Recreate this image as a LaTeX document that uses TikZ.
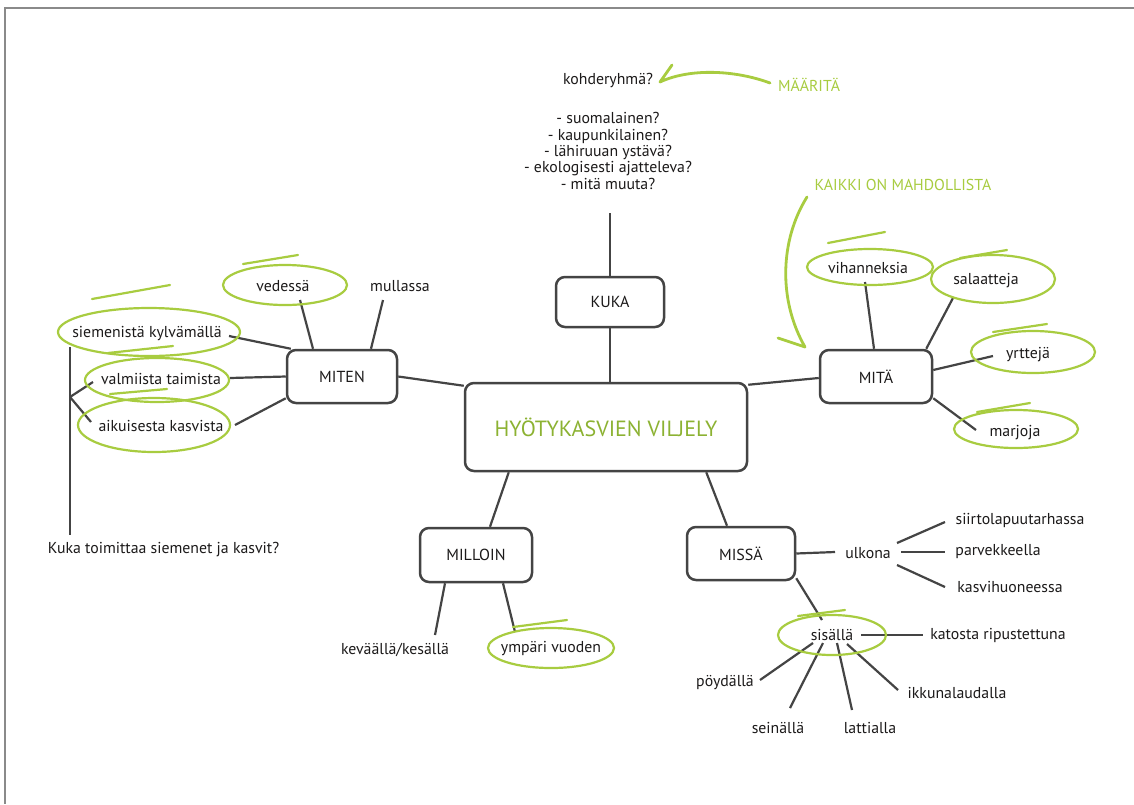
\documentclass[tikz,border=0pt]{standalone}
\usepackage{fontspec}
\setmainfont{PT Sans}
\definecolor{ink}{RGB}{28,26,26}
\definecolor{wiregrey}{RGB}{68,68,68}
\definecolor{leafgreen}{RGB}{168,204,64}
\definecolor{titlegreen}{RGB}{140,178,50}
\definecolor{framegrey}{RGB}{138,138,138}

% ring drawn by hand round a label: node, ring offset (dx,dy), radii, pen tail start and end
\newcommand\handring[9]{%
  \draw[ringpen] ([shift={(#2,#3)}]#1.center) ellipse [x radius=#4, y radius=#5];
  \draw[ringpen] ([shift={(#2+#6,#3+#7)}]#1.center) -- ([shift={(#2+#8,#3+#9)}]#1.center);
}

\begin{document}
\begin{tikzpicture}[x=1pt,y=-1pt,
  txt/.style={text=ink, font=\fontsize{15.8}{18}\selectfont, inner sep=1pt},
  topic/.style={draw=wiregrey, line width=2.5pt, rounded corners=9pt, fill=white,
    text=ink, font=\fontsize{16}{19}\selectfont},
  wire/.style={draw=wiregrey, line width=2.2pt},
  ringpen/.style={draw=leafgreen, line width=2.2pt, line cap=round},
  pen/.style={draw=leafgreen, line width=2.8pt, line cap=round, line join=round},
  note/.style={text=leafgreen, font=\fontsize{15.8}{18}\selectfont}
]
\fill[white] (0,0) rectangle (1134,804);
\useasboundingbox (0,0) rectangle (1134,804);
\draw[framegrey, line width=2pt] (1134,8) -- (5,8) -- (5,804);

% topic boxes
\node[topic, minimum width=282, minimum height=88, text=titlegreen,
      font=\fontsize{22}{26}\selectfont] (core) at (606,427) {HYÖTYKASVIEN VILJELY};
\node[topic, minimum width=108, minimum height=50] (kuka) at (610,302) {KUKA};
\node[topic, minimum width=110, minimum height=53] (miten) at (342,376.5) {MITEN};
\node[topic, minimum width=112, minimum height=53] (mita) at (876,376.5) {MITÄ};
\node[topic, minimum width=112, minimum height=54] (milloin) at (476,555) {MILLOIN};
\node[topic, minimum width=108, minimum height=53] (missa) at (741,553.5) {MISSÄ};

% KUKA
\node[txt] (kohde) at (608,80) {kohderyhmä?};
\node[txt, align=center, font=\fontsize{15.8}{16.3}\selectfont] (qs) at (608,151)
  {- suomalainen?\\- kaupunkilainen?\\- lähiruuan ystävä?\\- ekologisesti ajatteleva?\\- mitä muuta?};
\node[note] (maarita) at (809,85) {MÄÄRITÄ};
\coordinate (qfoot) at (609,213);

% MITEN
\node[txt] (vedessa) at (283,286) {vedessä};
\node[txt] (mullassa) at (400,286) {mullassa};
\node[txt] (siemenista) at (147,334) {siemenistä kylvämällä};
\node[txt] (valmiista) at (161,379) {valmiista taimista};
\node[txt] (aikuisesta) at (161,426) {aikuisesta kasvista};
\node[txt] (kt) at (163.5,550) {Kuka toimittaa siemenet ja kasvit?};
\coordinate (fork) at (70,397);

% MITÄ
\node[note] (kaikki) at (903,185) {KAIKKI ON MAHDOLLISTA};
\node[txt] (vihanneksia) at (868,268) {vihanneksia};
\node[txt] (salaatteja) at (986,281) {salaatteja};
\node[txt] (yrtteja) at (1028,355) {yrttejä};
\node[txt] (marjoja) at (1015,433) {marjoja};

% MILLOIN
\node[txt] (kevaalla) at (395,650) {keväällä/kesällä};
\node[txt] (ympari) at (551,649) {ympäri vuoden};

% MISSÄ
\node[txt] (ulkona) at (868,553) {ulkona};
\node[txt] (siirtola) at (1020,520) {siirtolapuutarhassa};
\node[txt] (parvek) at (998,552) {parvekkeella};
\node[txt] (kasvih) at (1010,587) {kasvihuoneessa};
\node[txt] (sisalla) at (832,635) {sisällä};
\node[txt] (katosta) at (998,635) {katosta ripustettuna};
\node[txt] (poydalla) at (725,683) {pöydällä};
\node[txt] (seinalla) at (778,728) {seinällä};
\node[txt] (lattialla) at (870,728) {lattialla};
\node[txt] (ikkuna) at (957,693) {ikkunalaudalla};

% connectors round the centre
\draw[wire] (kuka.south) -- (kuka.south |- core.north);
\draw[wire] (kuka.north) -- (kuka.north |- qfoot);
\draw[wire] (miten.east) -- ([yshift=-4pt]core.north west);
\draw[wire] ([yshift=-3pt]core.north east) -- ([yshift=-1.5pt]mita.west);
\draw[wire] ([xshift=45pt]core.south west) -- ([xshift=14pt]milloin.north);
\draw[wire] ([xshift=-42pt]core.south east) -- ([xshift=-14pt]missa.north);

% MITEN branches
\draw[wire] ([shift={(17,14)}]vedessa.center) -- ([xshift=-29pt]miten.north);
\draw[wire] ([shift={(-17,14)}]mullassa.center) -- ([xshift=29pt]miten.north);
\draw[wire] ([shift={(82,2)}]siemenista.center) -- ([xshift=5pt]miten.north west);
\draw[wire] ([shift={(69,-1)}]valmiista.center) -- (miten.west);
\draw[wire] ([shift={(74,-1)}]aikuisesta.center) -- ([yshift=6pt]miten.south west);
\draw[wire] ([shift={(-77,13)}]siemenista.center) -- ([shift={(-93.5,-15)}]kt.center);
\draw[wire] (fork) -- ([shift={(-68,3)}]valmiista.center);
\draw[wire] (fork) -- ([shift={(-70,-4)}]aikuisesta.center);

% MITÄ branches
\draw[wire] ([shift={(-3,14)}]vihanneksia.center) -- ([xshift=-2pt]mita.north);
\draw[wire] ([shift={(-33,17)}]salaatteja.center) -- ([xshift=-7pt]mita.north east);
\draw[wire] ([shift={(-35,1)}]yrtteja.center) -- ([yshift=6.5pt]mita.east);
\draw[wire] ([shift={(-39,-3)}]marjoja.center) -- ([yshift=6pt]mita.south east);

% MILLOIN branches
\draw[wire] ([shift={(40,-15)}]kevaalla.center) -- ([xshift=-31pt]milloin.south);
\draw[wire] ([shift={(-36,-17)}]ympari.center) -- ([xshift=27pt]milloin.south);

% MISSÄ branches
\draw[wire] (missa.east) -- ([shift={(-33,-1)}]ulkona.center);
\draw[wire] ([shift={(29,-10)}]ulkona.center) -- ([shift={(-75,2)}]siirtola.center);
\draw[wire] ([shift={(33,-1)}]ulkona.center) -- ([shift={(-53,0)}]parvek.center);
\draw[wire] ([shift={(29,12)}]ulkona.center) -- ([shift={(-65,0)}]kasvih.center);
\draw[wire] ([yshift=3pt]missa.south east) -- ([shift={(-10,-15)}]sisalla.center);
\draw[wire] ([shift={(29,0)}]sisalla.center) -- ([shift={(-75,0)}]katosta.center);
\draw[wire] ([shift={(35,-3)}]poydalla.center) -- ([shift={(-19,8)}]sisalla.center);
\draw[wire] ([shift={(12,-20)}]seinalla.center) -- ([shift={(-9,8)}]sisalla.center);
\draw[wire] ([shift={(-18,-18)}]lattialla.center) -- ([shift={(5,8)}]sisalla.center);
\draw[wire] ([shift={(-59,-3)}]ikkuna.center) -- ([shift={(15,9)}]sisalla.center);

% green rings
\handring{vedessa}{2}{-1}{62}{20}{-42}{-21}{13}{-30}
\handring{siemenista}{2}{-2}{91}{24}{-57}{-33}{21}{-47}
\handring{valmiista}{-4}{1}{72}{22}{-49}{-27}{16}{-34}
\handring{aikuisesta}{-7}{-1}{76}{27}{-44}{-31}{13}{-36}
\handring{vihanneksia}{2}{-1}{63}{18}{-42}{-24}{15}{-35}
\handring{salaatteja}{7}{-2}{62}{24}{-33}{-21}{14}{-29}
\handring{yrtteja}{5}{-3}{62}{21}{-40}{-20}{14}{-28}
\handring{marjoja}{1}{-4}{62}{19}{-39}{-17}{14}{-26}
\handring{ympari}{0}{-1}{63}{20}{-38}{-21}{16}{-28}
\handring{sisalla}{0}{0}{54}{20}{-34}{-19}{13}{-25}

% green pen arrows
\draw[pen] ([shift={(-39,-2)}]maarita.center) .. controls +(-35,-13) and +(30,-14) ..
  ([shift={(52,2)}]kohde.center) -- +(12,-17);
\draw[pen] ([shift={(-96,12)}]kaikki.center) .. controls +(-27,43) and +(-27,-47) ..
  ([shift={(-71,-29.5)}]mita.center) -- +(-27,-9);
\end{tikzpicture}
\end{document}
